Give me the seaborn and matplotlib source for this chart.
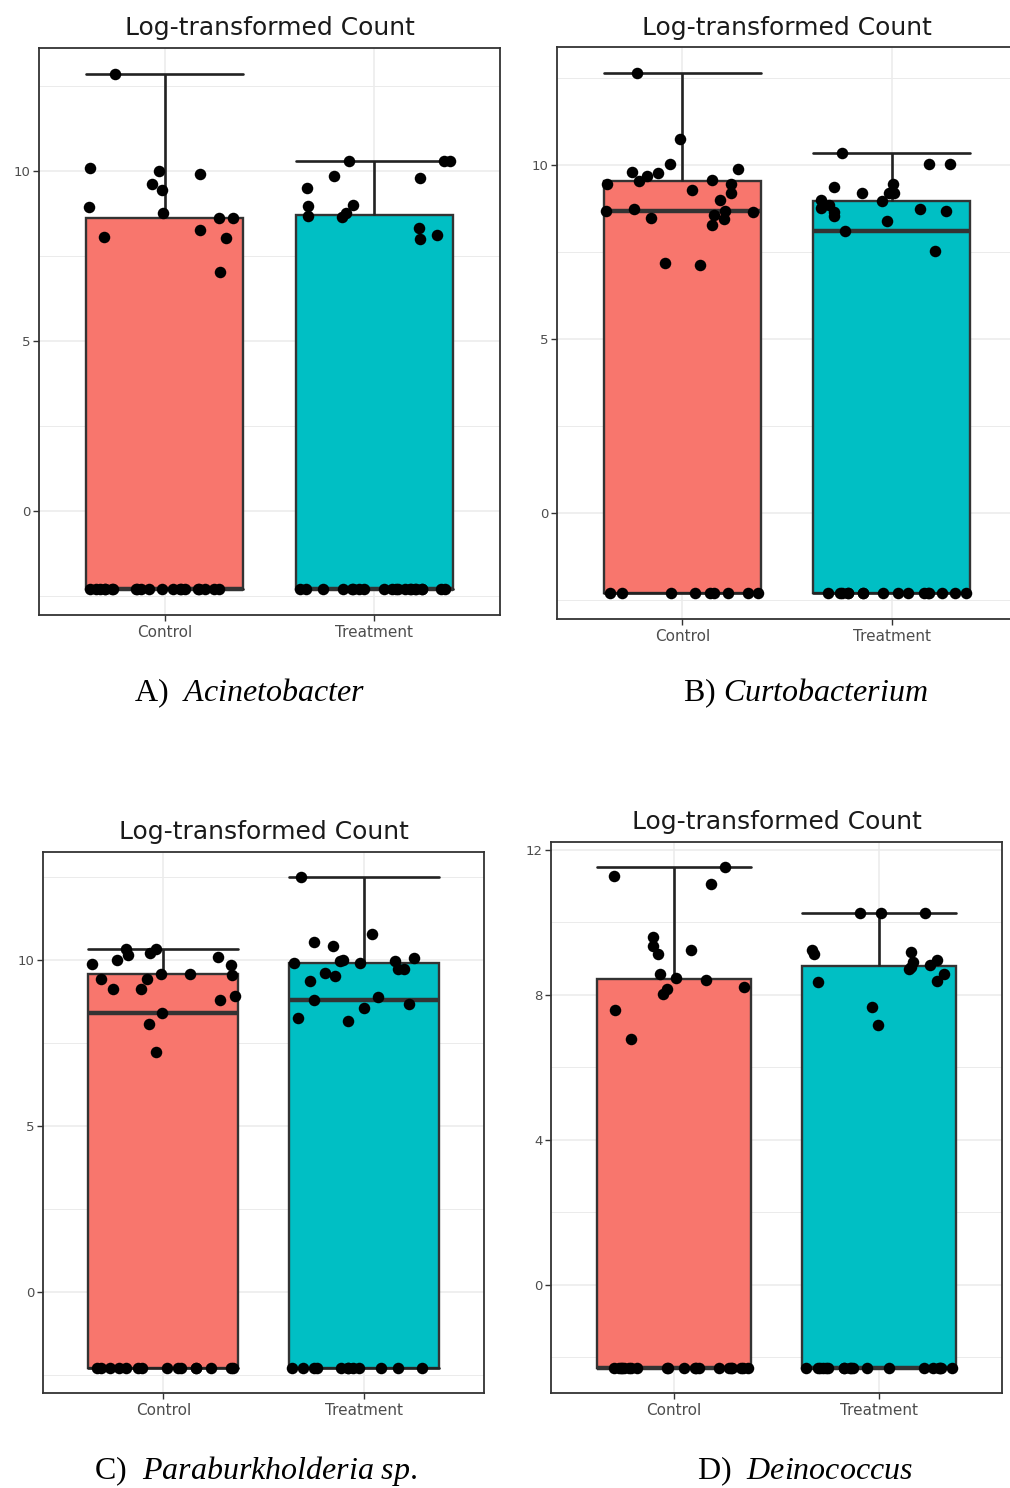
import numpy as np
import pandas as pd
import matplotlib
matplotlib.use("Agg")
import matplotlib.pyplot as plt
import seaborn as sns
from matplotlib.ticker import MultipleLocator

# ---------------- data ----------------
FLOOR = -2.3                     # log-transformed zero count
groups = ["Control", "Treatment"]
box_colors = ["#F8766D", "#00BFC4"]
panel_title = "Log-transformed Count"

a_control = [12.85, 10.09, 10.00, 9.91, 9.60, 9.42, 8.93, 8.75, 8.61, 8.61, 8.27, 8.05, 8.02, 7.03]
a_control_floor = 21
a_treatment = [10.28, 10.28, 10.28, 9.85, 9.78, 9.50, 9.00, 8.95, 8.75, 8.66, 8.65, 8.32, 8.10, 8.00]
a_treatment_floor = 21

b_control = [12.65, 10.74, 10.02, 9.89, 9.79, 9.78, 9.68, 9.57, 9.54, 9.47, 9.45, 9.30, 9.19, 8.99,
             8.74, 8.69, 8.69, 8.66, 8.58, 8.47, 8.44, 8.28, 7.20, 7.13]
b_control_floor = 9
b_treatment = [10.34, 10.02, 10.02, 9.47, 9.38, 9.20, 9.19, 9.19, 8.99, 8.97, 8.85, 8.76, 8.73, 8.69,
               8.66, 8.53, 8.39, 8.10, 7.54]
b_treatment_floor = 16

c_control = [10.33, 10.31, 10.21, 10.13, 10.08, 10.00, 9.86, 9.83, 9.58, 9.58, 9.53, 9.43, 9.43, 9.13,
             9.11, 8.90, 8.80, 8.41, 8.05, 7.23]
c_control_floor = 15
c_treatment = [12.50, 10.78, 10.53, 10.41, 10.06, 10.00, 9.96, 9.96, 9.91, 9.91, 9.71, 9.71, 9.60, 9.50,
               9.35, 8.88, 8.80, 8.66, 8.56, 8.25, 8.15]
c_treatment_floor = 12

d_control = [11.53, 11.28, 11.06, 9.59, 9.34, 9.23, 9.12, 8.58, 8.48, 8.42, 8.23, 8.17, 8.02, 7.58, 6.77]
d_control_floor = 21
d_treatment = [10.26, 10.26, 10.26, 9.25, 9.18, 9.12, 8.95, 8.90, 8.83, 8.78, 8.71, 8.58, 8.37, 8.35,
               7.66, 7.17]
d_treatment_floor = 19

captions = [r"A)  $\mathit{Acinetobacter}$",
            r"B) $\mathit{Curtobacterium}$",
            r"C)  $\mathit{Paraburkholderia\ sp.}$",
            r"D)  $\mathit{Deinococcus}$"]

# ---------------- style ----------------
sns.set_style("white")
plt.rcParams["font.family"] = ["DejaVu Sans"]
plt.rcParams["mathtext.fontset"] = "custom"
plt.rcParams["mathtext.rm"] = "Liberation Serif"
plt.rcParams["mathtext.it"] = "Liberation Serif:italic"

W, H = 1010, 1488
fig = plt.figure(figsize=(W / 100, H / 100), dpi=100)


def frac(l, r, t, b):
    return [l / W, 1 - b / H, (r - l) / W, (b - t) / H]


panels = [
    (frac(39, 500, 48, 615), a_control, a_control_floor, a_treatment, a_treatment_floor, 5, 11),
    (frac(557, 1017, 47, 619), b_control, b_control_floor, b_treatment, b_treatment_floor, 5, 22),
    (frac(43, 484, 852, 1393), c_control, c_control_floor, c_treatment, c_treatment_floor, 5, 33),
    (frac(551, 1002, 842, 1393), d_control, d_control_floor, d_treatment, d_treatment_floor, 4, 44),
]

edge = "#333333"
for rect, ctrl, nc, trt, nt, step, seed in panels:
    ax = fig.add_axes(rect)
    vals = list(ctrl) + [FLOOR] * nc + list(trt) + [FLOOR] * nt
    grp = ["Control"] * (len(ctrl) + nc) + ["Treatment"] * (len(trt) + nt)
    df = pd.DataFrame({"group": grp, "value": vals})

    sns.boxplot(data=df, x="group", y="value", hue="group", order=groups, hue_order=groups,
                palette=box_colors, saturation=1, width=0.75, whis=1.5, showfliers=False,
                linecolor=edge, linewidth=1.7, legend=False,
                medianprops={"linewidth": 3.2, "color": edge},
                whiskerprops={"linewidth": 1.9, "color": "#222222"},
                capprops={"linewidth": 1.9, "color": "#222222"},
                ax=ax)
    # caps span the full box width, as in the reference
    for ln in ax.lines:
        xd = np.asarray(ln.get_xdata(), dtype=float)
        yd = np.asarray(ln.get_ydata(), dtype=float)
        if len(xd) == 2 and yd[0] == yd[1] and 0.01 < abs(xd[1] - xd[0]) < 0.5:
            c = xd.mean()
            ln.set_xdata([c - 0.375, c + 0.375])
    np.random.seed(seed)
    sns.stripplot(data=df, x="group", y="value", order=groups, color="black", size=8.3,
                  jitter=0.37, linewidth=0, ax=ax, zorder=5)

    v = np.asarray(vals)
    rng = v.max() - v.min()
    ax.set_ylim(v.min() - 0.05 * rng, v.max() + 0.05 * rng)
    ax.set_xlim(-0.6, 1.6)
    ax.yaxis.set_major_locator(MultipleLocator(step))
    ax.yaxis.set_minor_locator(MultipleLocator(step / 2))
    ax.grid(which="major", color="#EBEBEB", linewidth=1.1)
    ax.grid(which="minor", axis="y", color="#EBEBEB", linewidth=0.7)
    ax.set_axisbelow(True)
    ax.set_xlabel("")
    ax.set_ylabel("")
    ax.tick_params(axis="both", which="major", length=4, width=1.0, color=edge,
                   direction="out", left=True, bottom=True)
    ax.tick_params(axis="both", which="minor", length=0)
    ax.tick_params(axis="y", labelsize=9.5, labelcolor="#4D4D4D", pad=2)
    ax.tick_params(axis="x", labelsize=11, labelcolor="#4D4D4D", pad=3)
    for s in ax.spines.values():
        s.set_color(edge)
        s.set_linewidth(1.3)
        s.set_visible(True)
    ax.set_title(panel_title, fontsize=18, color="#1A1A1A", pad=9)

cap_pos = [(250, 693), (806, 693), (256, 1471), (805, 1471)]
for (cx, cy), txt in zip(cap_pos, captions):
    fig.text(cx / W, 1 - cy / H, txt, ha="center", va="center", fontsize=23,
             family="Liberation Serif", color="black")

fig.savefig("out.png", dpi=100)
